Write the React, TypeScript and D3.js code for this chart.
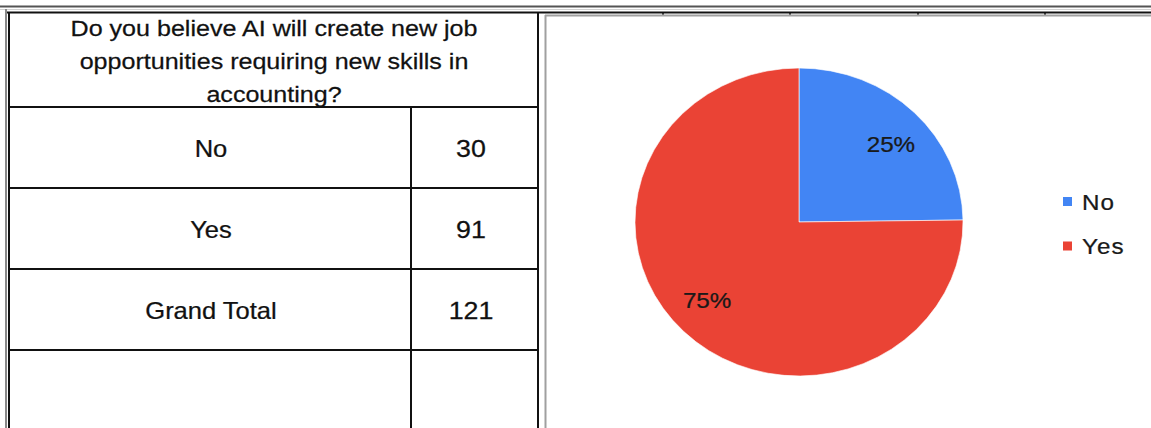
import React from "react";
import * as d3 from "d3";

// ---- data ----
const questionLines = [
  "Do you believe AI will create new job",
  "opportunities requiring new skills in",
  "accounting?",
];
const categories = ["No", "Yes"];
const counts = [30, 91];
const totalLabel = "Grand Total";
const sliceColors = ["#4285F4", "#EA4335"];

const W = 1151;
const H = 428;
const FONT = "'Liberation Sans', Arial, sans-serif";
const SX = 1.14; // horizontal stretch of the screenshot text

function StretchText(props: {
  x: number;
  y: number;
  sx: number;
  children: React.ReactNode;
  [k: string]: any;
}) {
  const { x, y, sx, children, ...rest } = props;
  return (
    <text
      x={0}
      y={0}
      transform={`translate(${x},${y}) scale(${sx},1)`}
      stroke="#111"
      strokeWidth={0.25}
      {...rest}
    >
      {children}
    </text>
  );
}

export default function App() {
  const total = d3.sum(counts);
  const rows = [
    ...categories.map((c, i) => ({ label: c, value: String(counts[i]) })),
    { label: totalLabel, value: String(total) },
    { label: "", value: "" },
  ];

  // table geometry
  const tLeft = 9;
  const tRight = 538;
  const colDiv = 411;
  const tTop = 12.5;
  const headerBottom = 107;
  const rowH = 81;
  const rowY = d3
    .scaleLinear()
    .domain([0, 1])
    .range([headerBottom, headerBottom + rowH]);

  // pie geometry
  const cx = 799;
  const cy = 222;
  const r = 154;
  const psx = 1.065;
  const pie = d3
    .pie<number>()
    .sort(null)
    .value((d) => d)(counts);
  const arc = d3.arc<d3.PieArcDatum<number>>().innerRadius(0).outerRadius(r);
  const pct = d3.format(".0%");

  const legendY = d3.scaleLinear().domain([0, 1]).range([201.5, 246]);

  const gridTicks = [663, 790, 918, 1045];
  const headerCx = 274;

  return (
    <div style={{ position: "fixed", left: 0, top: 0, width: W, height: H, background: "#fff" }}>
      <svg width={W} height={H} style={{ display: "block" }} fontFamily={FONT}>
        <rect x={0} y={0} width={W} height={H} fill="#fff" />
        {/* sheet top lines */}
        <line x1={0} x2={W} y1={6.5} y2={6.5} stroke="#555" strokeWidth={2} />
        <line x1={0} x2={W} y1={9.5} y2={9.5} stroke="#d0d0d0" strokeWidth={1} />
        <line x1={6} x2={W} y1={tTop} y2={tTop} stroke="#111" strokeWidth={2} />
        {gridTicks.map((x) => (
          <line key={x} x1={x} x2={x} y1={tTop} y2={15} stroke="#111" strokeWidth={1.5} />
        ))}
        {/* left double border */}
        <line x1={6} x2={6} y1={9} y2={H} stroke="#888" strokeWidth={2} />
        <line x1={tLeft} x2={tLeft} y1={tTop} y2={H} stroke="#111" strokeWidth={2} />
        {/* table right border */}
        <line x1={tRight} x2={tRight} y1={tTop} y2={H} stroke="#111" strokeWidth={2} />
        {/* chart frame */}
        <line x1={545.5} x2={545.5} y1={15} y2={H} stroke="#a0a0a0" strokeWidth={2} />
        <line x1={545} x2={W} y1={15.5} y2={15.5} stroke="#a0a0a0" strokeWidth={2} />

        {/* header */}
        {questionLines.map((t, i) => (
          <StretchText
            key={i}
            x={headerCx}
            y={35.5 + i * 33}
            sx={SX}
            textAnchor="middle"
            fontSize={22}
            fill="#111"
          >
            {t}
          </StretchText>
        ))}

        {/* rows */}
        {rows.map((row, i) => {
          const y0 = rowY(i);
          const base = y0 + 50;
          const c1 = 211;
          const c2 = 471;
          return (
            <g key={i}>
              <line x1={tLeft} x2={tRight} y1={y0} y2={y0} stroke="#111" strokeWidth={2} />
              <line x1={colDiv} x2={colDiv} y1={y0} y2={Math.min(y0 + rowH, H)} stroke="#111" strokeWidth={2} />
              <StretchText x={c1} y={base} sx={1.11} textAnchor="middle" fontSize={23} fill="#111">
                {row.label}
              </StretchText>
              <StretchText x={c2} y={base} sx={1.14} textAnchor="middle" fontSize={23.5} fill="#111">
                {row.value}
              </StretchText>
            </g>
          );
        })}

        {/* pie */}
        <g transform={`translate(${cx},${cy}) scale(${psx},1)`}>
          {pie.map((d, i) => (
            <path key={i} d={arc(d) || ""} fill={sliceColors[i]} stroke="#fff" strokeWidth={0.6} />
          ))}
        </g>
        {pie.map((d, i) => {
          const a = (d.startAngle + d.endAngle) / 2 + 0.06;
          const [lx, ly] = d3.pointRadial(a, 116);
          return (
            <StretchText
              key={i}
              x={cx + lx * psx}
              y={cy + ly + 8}
              sx={1.1}
              textAnchor="middle"
              fontSize={22}
              fill="#1a1a1a"
            >
              {pct(d.data / total)}
            </StretchText>
          );
        })}

        {/* legend */}
        {categories.map((c, i) => (
          <g key={c}>
            <rect x={1063} y={legendY(i) - 4.5} width={9} height={9} fill={sliceColors[i]} />
            <StretchText
              x={1082}
              y={legendY(i) + 8}
              sx={1.1}
              fontSize={22}
              fill="#1a1a1a"
              letterSpacing={1}
            >
              {c}
            </StretchText>
          </g>
        ))}
      </svg>
    </div>
  );
}
